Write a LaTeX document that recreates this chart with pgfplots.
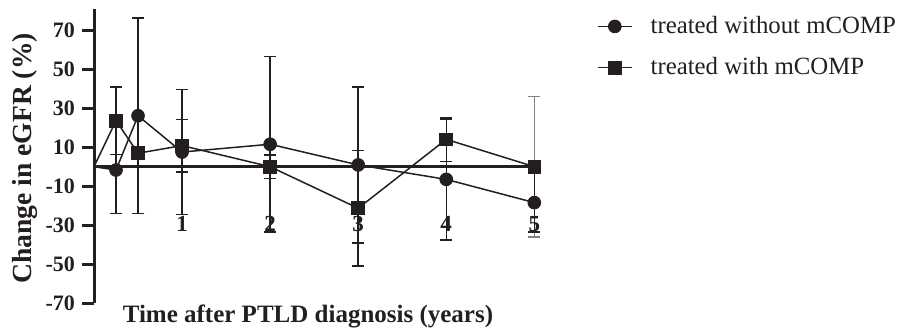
\documentclass[border=0pt]{standalone}
\usepackage{fontspec}
\setmainfont{Liberation Serif}
\usepackage{pgfplots}
\pgfplotsset{compat=1.18}
\definecolor{ink}{RGB}{35,31,32}
\begin{document}
\begin{tikzpicture}
\begin{axis}[
  x=44.03pt, y=0.976pt,
  xmin=0, xmax=5.15, ymin=-70, ymax=81,
  axis y line=left, axis x line=bottom,
  axis line style={-, draw=ink, line width=1.5pt},
  x axis line style={draw=none},
  xtick={1,2,3,4,5},
  xticklabels={1,2,3,4,5},
  major x tick style={draw=none},
  xticklabel style={font=\fontsize{11.5}{13}\selectfont\bfseries, anchor=center, yshift=45.5pt, text=ink},
  ytick={-70,-50,-30,-10,10,30,50,70},
  yticklabels={-70,-50,-30,-10,10,30,50,70},
  yticklabel style={font=\fontsize{11}{13}\selectfont\bfseries, text=ink},
  tick align=outside,
  major tick length=6pt,
  major y tick style={line width=1.5pt, draw=ink},
  clip=false,
  xlabel={Time after PTLD diagnosis (years)},
  xlabel style={at={(axis cs:2.43,-79.6)}, anchor=base, font=\fontsize{12.5}{15}\selectfont\bfseries, text=ink},
  ylabel={Change in eGFR (\%)},
  ylabel style={at={(axis cs:-0.784,4.2)}, anchor=center, font=\fontsize{13.8}{16}\selectfont\bfseries, text=ink},
  legend cell align=left,
  legend style={draw=none, fill=none, at={(axis cs:5.712,61.3)}, anchor=west, inner sep=0pt, outer sep=0pt,
    font=\fontsize{12.4}{14}\selectfont, text=ink, row sep=10.5pt, nodes={inner sep=0pt},
    /tikz/every odd column/.append style={column sep=9pt}},
]
% zero line
\addplot[forget plot, ink, line width=1.5pt] coordinates {(0,0)(5.07,0)};
% grey error bar of the square at 5 years
\addplot[forget plot, draw=none, mark=none, error bars/.cd, y dir=both, y explicit,
  error bar style={draw=gray, line width=0.7pt},
  error mark options={draw=gray, rotate=90, mark size=3pt, line width=0.7pt}]
  coordinates {(5,0) +- (0,36)};
% segments from the origin
\addplot[forget plot, ink, line width=0.75pt] coordinates {(0,0)(0.25,-1.7)};
\addplot[forget plot, ink, line width=0.75pt] coordinates {(0,0)(0.25,23.6)};
% treated without mCOMP
\addplot[ink, line width=0.75pt, mark=*, mark size=3.2pt, mark options={fill=ink, draw=ink, line width=0.4pt},
  error bars/.cd, y dir=both, y explicit,
  error bar style={line width=0.7pt, draw=ink},
  error mark options={rotate=90, mark size=3pt, line width=0.7pt, draw=ink}]
  coordinates {(0.25,-1.7) +- (0,22.2) (0.5,26.1) +- (0,50) (1,7.5) +- (0,32) (2,11.5) +- (0,45)
               (3,0.9) +- (0,40) (4,-6.5) +- (0,31) (5,-18.4) +- (0,15)};
\addlegendentry{treated without mCOMP}
% treated with mCOMP
\addplot[ink, line width=0.75pt, mark=square*, mark size=3.2pt, mark options={fill=ink, draw=ink, line width=0.4pt},
  error bars/.cd, y dir=both, y explicit,
  error bar style={line width=0.7pt, draw=ink},
  error mark options={rotate=90, mark size=3pt, line width=0.7pt, draw=ink}]
  coordinates {(0.25,23.6) +- (0,17.3) (0.5,6.9) +- (0,0) (1,10.8) +- (0,13.5) (2,0) +- (0,6)
               (3,-21.3) +- (0,29.5) (4,14) +- (0,11.3) (5,0) +- (0,0)};
\addlegendentry{treated with mCOMP}
\coordinate (bbA) at (axis cs:-1.0675,-83.15);
\coordinate (bbB) at (axis cs:9.255,85.4);
\end{axis}
\pgfresetboundingbox
\useasboundingbox (bbA) rectangle (bbB);
\end{tikzpicture}
\end{document}
